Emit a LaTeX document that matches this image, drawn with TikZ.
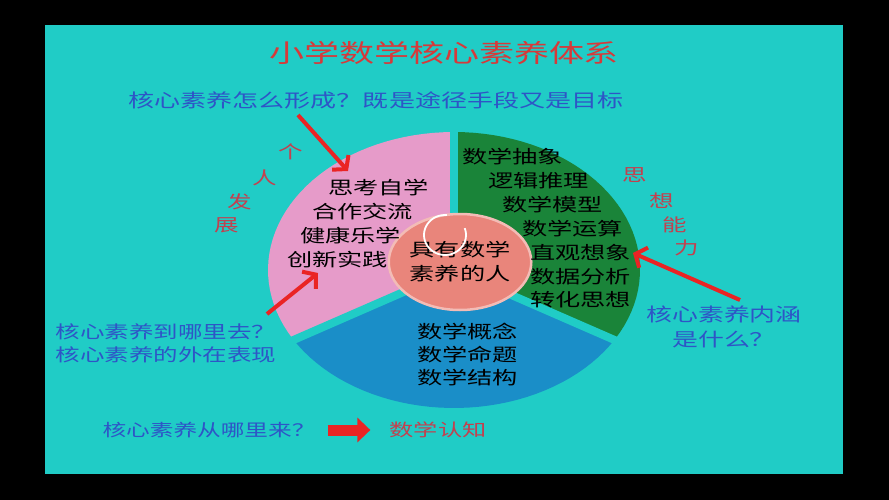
\documentclass[tikz,border=0pt]{standalone}
\usepackage{fontspec}
\newfontfamily\cjk[FakeStretch=1.4]{Noto Sans CJK SC}
\usetikzlibrary{arrows.meta,shapes.geometric}

\definecolor{slidebg}{HTML}{20CCC6}
\definecolor{pinksec}{HTML}{E69BC9}
\definecolor{greensec}{HTML}{1A8439}
\definecolor{bluesec}{HTML}{1A8EC8}
\definecolor{coresec}{HTML}{E9857B}
\definecolor{titlered}{HTML}{D63A3A}
\definecolor{softred}{HTML}{C2414F}
\definecolor{askblue}{HTML}{2E55C6}
\definecolor{arrowred}{HTML}{EA2424}

\begin{document}
\begin{tikzpicture}
		[x=1pt,y=-1pt,
		title text/.style={font=\cjk\fontsize{25}{28}\selectfont,text=titlered},
		ask text/.style={font=\cjk\fontsize{17.5}{23}\selectfont,text=askblue,align=center,inner sep=0pt},
		side text/.style={font=\cjk\fontsize{17.5}{20}\selectfont,text=softred,inner sep=0pt},
		pie text/.style={font=\cjk\fontsize{18}{24}\selectfont,anchor=west,inner sep=0pt},
		red arrow/.style={draw=arrowred,line width=4pt,-{Straight Barb[length=9pt,width=22pt]}}
		]
		
		% slide
		\fill[black] (0,0) rectangle (889,500);
		\fill[slidebg] (45,25) rectangle (843,474);
		
		% pie
		\fill[pinksec] (454,270) -- plot[domain=90:210,samples=40] ({454+186*cos(\x)},{270-138*sin(\x)}) -- cycle;
		\fill[greensec] (454,270) -- plot[domain=-30:90,samples=40] ({454+186*cos(\x)},{270-138*sin(\x)}) -- cycle;
		\fill[bluesec] (454,270) -- plot[domain=210:330,samples=40] ({454+186*cos(\x)},{270-138*sin(\x)}) -- cycle;
		\foreach \a in {90,210,330}
			\draw[slidebg,line width=8pt] (454,270) -- ({454+196*cos(\a)},{270-148*sin(\a)});
		
		\node [ellipse,fill=coresec,draw=coresec!55!white,line width=2.5pt,
			minimum width=134pt,minimum height=96pt,inner sep=0pt,align=center,
			font=\cjk\fontsize{18}{24}\selectfont] (core) at (460,262) {具有数学\\素养的人};
		\draw[white,line width=1.8pt] plot[domain=85:380,samples=40] ({445+21*cos(\x)},{235-20*sin(\x)});
		
		% title and questions
		\node [title text] (title) at (444,53) {小学数学核心素养体系};
		\node [ask text,font=\cjk\fontsize{18.6}{23}\selectfont] (how) at (376,100) {核心素养怎么形成？既是途径手段又是目标};
		\node [ask text] (where) at (166,343) {核心素养到哪里去？\\核心素养的外在表现};
		\node [ask text,font=\cjk\fontsize{18.5}{25}\selectfont] (what) at (724,327) {核心素养内涵\\是什么？};
		\node [ask text,font=\cjk\fontsize{16.9}{20}\selectfont] (from) at (209,430) {核心素养从哪里来？};
		\node [side text,font=\cjk\fontsize{17.3}{20}\selectfont] (cog) at (438,430) {数学认知};
		
		% side words
		\node [side text] (s1) at (291,152) {个};
		\node [side text] (s2) at (265,178) {人};
		\node [side text] (s3) at (240,202) {发};
		\node [side text] (s4) at (227,225) {展};
		\node [side text] (t1) at (635,175) {思};
		\node [side text] (t2) at (662,201) {想};
		\node [side text] (t3) at (675,225) {能};
		\node [side text] (t4) at (687,248) {力};
		
		% pink part
		\node [pie text] (p1) at (328,188) {思考自学};
		\node [pie text] (p2) at (312,212) {合作交流};
		\node [pie text] (p3) at (300,236) {健康乐学};
		\node [pie text] (p4) at (287,260) {创新实践};
		
		% green part
		\node [pie text] (g1) at (462,157) {数学抽象};
		\node [pie text] (g2) at (488,181) {逻辑推理};
		\node [pie text] (g3) at (502,205) {数学模型};
		\node [pie text] (g4) at (522,229) {数学运算};
		\node [pie text] (g5) at (530,253) {直观想象};
		\node [pie text] (g6) at (530,277) {数据分析};
		\node [pie text] (g7) at (530,300) {转化思想};
		
		% blue part
		\node [pie text] (b1) at (417,332) {数学概念};
		\node [pie text] (b2) at (417,355) {数学命题};
		\node [pie text] (b3) at (417,378) {数学结构};
		
		% arrows
		\coordinate (howtail) at (298,115);
		\coordinate (howtip) at (348,171);
		\coordinate (wheretail) at (267,314);
		\coordinate (wheretip) at (318,273);
		\coordinate (whattail) at (740,300);
		\coordinate (whattip) at (633,253);
		\path
		(howtail) edge[red arrow] (howtip)
		(wheretail) edge[red arrow] (wheretip)
		(whattail) edge[red arrow] (whattip)
		;
		\draw[arrowred,line width=11pt,-{Triangle[length=13pt,width=24pt]},shorten <=12pt,shorten >=19pt] (from.east) -- (cog.west);
		
		\end{tikzpicture}
\end{document}
